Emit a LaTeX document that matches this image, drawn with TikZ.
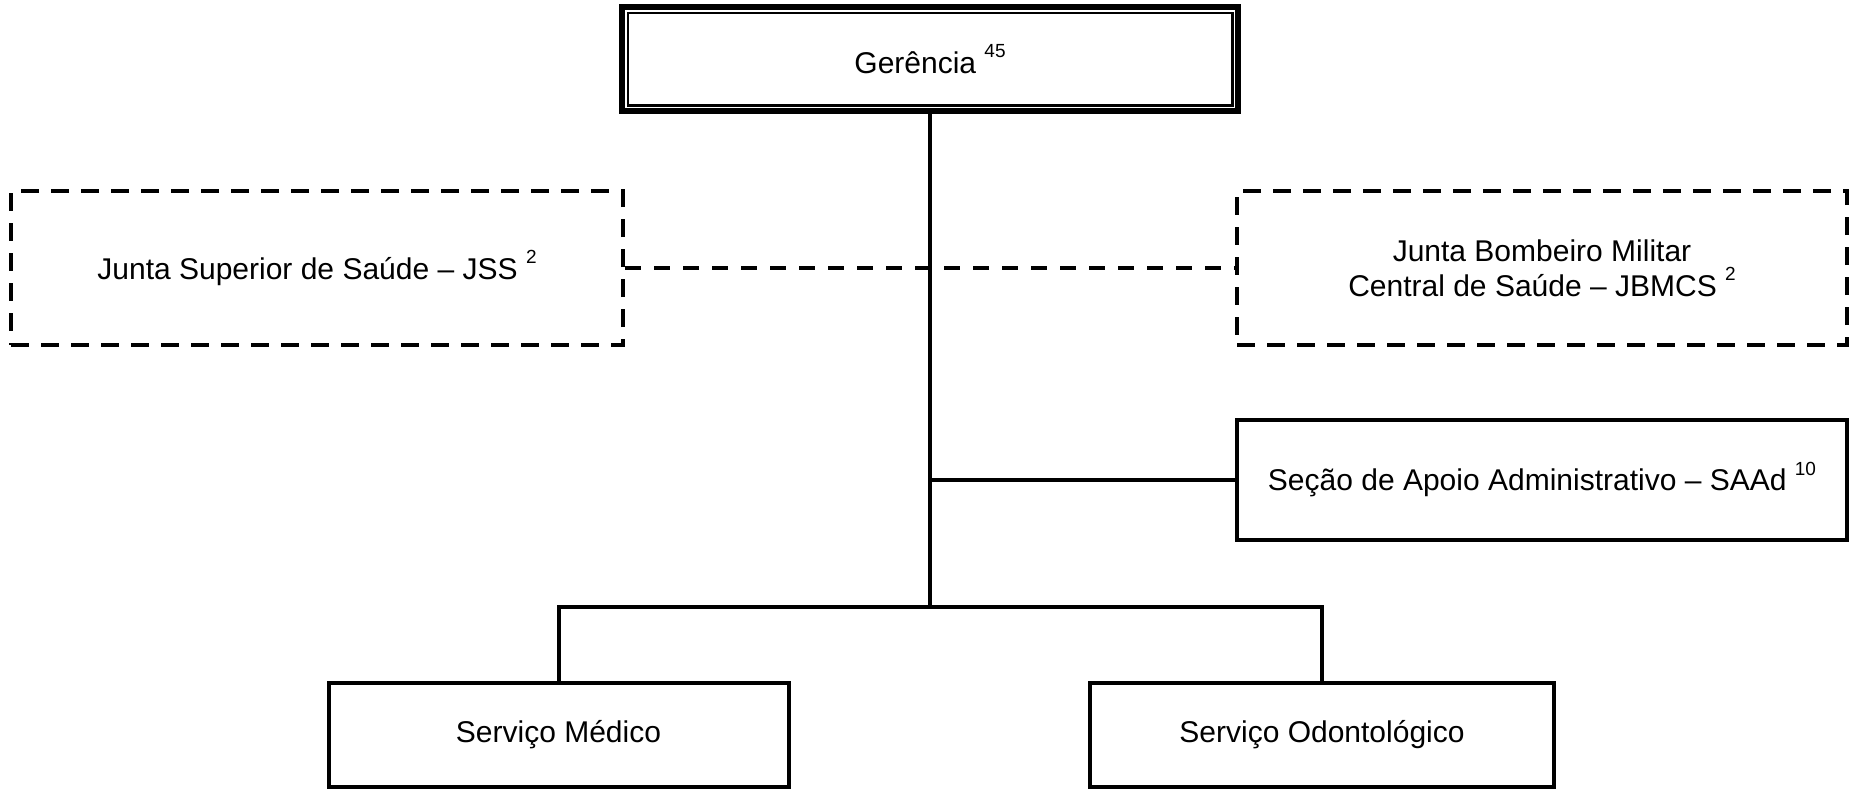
\documentclass[tikz,border=0pt]{standalone}
\usepackage{fontspec}
\setmainfont{Liberation Sans}
\usetikzlibrary{calc}
\newcommand{\supnum}[1]{\raisebox{0.52em}{\fontsize{19}{19}\selectfont #1}}
\begin{document}
\begin{tikzpicture}[x=1pt,y=-1pt,
  font=\fontsize{30}{35}\selectfont,
  unitbox/.style={draw, line width=4pt, inner sep=0pt, align=center},
  dashbox/.style={unitbox, line width=4.5pt, dash pattern=on 18pt off 12pt},
  link/.style={line width=4pt},
  dashlink/.style={line width=4pt, dash pattern=on 16pt off 13pt}]
\useasboundingbox (0,0) rectangle (1860,790);

% top management box with thick-thin double frame
\node[draw, line width=6.5pt, inner sep=0pt, minimum width=616pt, minimum height=104pt]
  (ger) at (930,59) {Gerência \supnum{45}};
\draw[line width=2.5pt] ($(ger.south west)+(9,-9)$) rectangle ($(ger.north east)+(-9,9)$);

% advisory boards (dashed)
\node[dashbox, minimum width=612pt, minimum height=154pt] (jss) at (317,268)
  {Junta Superior de Saúde – JSS \supnum{2}};
\node[dashbox, minimum width=610pt, minimum height=154pt] (jbm) at (1542,268)
  {Junta Bombeiro Militar\\Central de Saúde – JBMCS \supnum{2}};

% staff section
\node[unitbox, minimum width=610pt, minimum height=120pt] (saad) at (1542,479.5)
  {Seção de Apoio Administrativo – SAAd \supnum{10}};

% services
\node[unitbox, minimum width=460pt, minimum height=104pt] (med) at (558.5,735)
  {Serviço Médico};
\node[unitbox, minimum width=464pt, minimum height=104pt] (odo) at (1322,735)
  {Serviço Odontológico};

\coordinate (bar) at (930,607);

% connectors
\draw[link] (ger.south) -- (bar);
\draw[link] (saad.west) -- (saad.west -| ger.south);
\draw[link] (med.north) -- (med.north |- bar) -- (odo.north |- bar) -- (odo.north);
\draw[dashlink] (jss.east) -- (jbm.west);
\end{tikzpicture}
\end{document}
